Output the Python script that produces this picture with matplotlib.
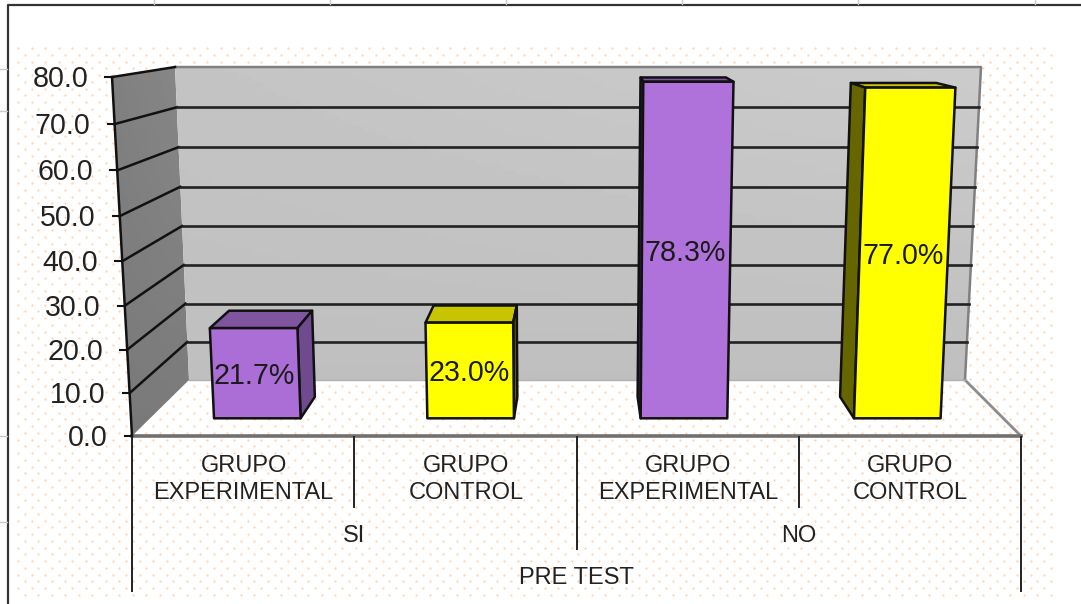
# Pre test bars, faked 3D look like the old Excel chart
import numpy as np
import matplotlib
matplotlib.use("Agg")
import matplotlib.pyplot as plt
from matplotlib.patches import Polygon

plt.rcParams['font.family'] = ['Liberation Sans', 'DejaVu Sans']

values = [21.7, 23.0, 78.3, 77.0]
value_labels = ["21.7%", "23.0%", "78.3%", "77.0%"]
cat_labels = ["GRUPO\nEXPERIMENTAL", "GRUPO\nCONTROL", "GRUPO\nEXPERIMENTAL", "GRUPO\nCONTROL"]
group_labels = ["SI", "NO"]
outer_label = "PRE TEST"
y_ticks = [0, 10, 20, 30, 40, 50, 60, 70, 80]
front_cols = ["#ab6dd6", "#ffff00", "#af72da", "#ffff00"]
top_cols = ["#7f55a0", "#c8c400", "#7f55a0", "#c8c400"]
side_cols = ["#6f4a8e", "#666600", "#3e2a52", "#666600"]

W, H = 1081, 604


def proj(u, v, d):
    # u = category position 0..4, v = value, d = depth 0 (front) .. 1 (back wall)
    a = 4.25 + (3.787 - 4.25) * d
    b = 0.00066 + (0.0004 - 0.00066) * d
    y = (436 + (380 - 436) * d) - a * v / (1 - b * v)
    xl = 132 + 57 * d + v / 80 * (-20 + 6 * d)
    xr = 1021 - 56 * d + v / 80 * (19 - 3 * d)
    return xl + (xr - xl) * u / 4, y


def gradient_poly(pts, c1, c2):
    p = Polygon(pts, closed=True, fc="none", ec="none")
    ax.add_patch(p)
    xs = [q[0] for q in pts]
    ys = [q[1] for q in pts]
    g = np.linspace(0, 1, 64).reshape(-1, 1) * np.linspace(0.4, 1, 64)
    im = ax.imshow(c1 + (c2 - c1) * g, cmap="gray", vmin=0, vmax=255, aspect="auto",
                   extent=(min(xs), max(xs), max(ys), min(ys)), origin="lower", zorder=1)
    im.set_clip_path(p)


fig = plt.figure(figsize=(W / 100, H / 100), dpi=100)
ax = fig.add_axes([0, 0, 1, 1])

# dotted background
for row, yy in enumerate(np.arange(48, 600, 6.75)):
    xx = np.arange(18 + 6.75 * (row % 2), 1057, 13.5)
    ax.scatter(xx, [yy] * len(xx), s=2.6, color="#ffd2b0", linewidths=0, zorder=0)

# walls
gradient_poly([proj(0, 80, 0), proj(0, 80, 1), proj(0, 0, 1), proj(0, 0, 0)], 122, 136)
gradient_poly([proj(0, 80, 1), proj(4, 80, 1), proj(4, 0, 1), proj(0, 0, 1)], 191, 203)

# wall and floor edges
corners = [proj(0, 80, 1), proj(4, 80, 1), proj(4, 0, 1)]
ax.plot([c[0] for c in corners], [c[1] for c in corners], color="#808080", lw=1.8, zorder=2)
ax.plot(*zip(proj(4, 0, 1), proj(4, 0, 0)), color="#8c8c8c", lw=2, zorder=2)
ax.plot(*zip(proj(0, 0, 1), proj(4, 0, 1)), color="#b0b0b0", lw=1, zorder=2)
ax.plot(*zip(proj(0, 0, 0), proj(4, 0, 0)), color="#707070", lw=2.6, zorder=2)

# grid lines
for t in y_ticks:
    f = proj(0, t, 0)
    ax.plot([f[0] - 7, f[0]], [f[1], f[1]], color="#111111", lw=1.5, zorder=3)
    if t > 0:
        ax.plot(*zip(f, proj(0, t, 1)), color="#111111", lw=1.8, zorder=3)
        if t < 80:
            ax.plot(*zip(proj(0, t, 1), proj(4, t, 1)), color="#222222", lw=1.9, zorder=3)
    ax.text(f[0] - 24, f[1] + 2, "%.1f" % t, ha="right", va="center",
            fontsize=20.6, color="#222222", zorder=6)
ax.plot(*zip(proj(0, 0, 0), proj(0, 80, 0)), color="#111111", lw=1.8, zorder=3)

# bars
d1, d2 = 0.316, 0.70
for i, v in enumerate(values):
    u1, u2 = i + 0.3, i + 0.706
    fl0, fr0 = proj(u1, 0, d1), proj(u2, 0, d1)
    fl1, fr1 = proj(u1, v, d1), proj(u2, v, d1)
    bl0, br0 = proj(u1, 0, d2), proj(u2, 0, d2)
    bl1, br1 = proj(u1, v, d2), proj(u2, v, d2)
    kw = dict(closed=True, ec="#111111", lw=1.8, joinstyle="round", zorder=4)
    ax.add_patch(Polygon([fl1, fr1, br1, bl1], fc=top_cols[i], **kw))
    if br0[0] > fr0[0]:
        ax.add_patch(Polygon([fr0, fr1, br1, br0], fc=side_cols[i], **kw))
    if bl0[0] < fl0[0]:
        ax.add_patch(Polygon([fl0, fl1, bl1, bl0], fc=side_cols[i], **kw))
    ax.add_patch(Polygon([fl0, fr0, fr1, fl1], fc=front_cols[i], **kw))
    cx = (fl0[0] + fr0[0] + fl1[0] + fr1[0]) / 4
    cy = (fl0[1] + fl1[1]) / 2
    ax.text(cx - 1, cy + 3, value_labels[i], ha="center", va="center", fontsize=20.6, color="#1a1a1a", zorder=6)

# multi level category axis
for i in range(5):
    x = proj(i, 0, 0)[0]
    end = 591 if i in (0, 4) else (549 if i == 2 else 507)
    ax.plot([x, x], [437, end], color="#222222", lw=1.4, zorder=3)
for i, lab in enumerate(cat_labels):
    ax.text(proj(i + 0.5, 0, 0)[0] + 0.5, 479.5, lab, ha="center", va="center", fontsize=17,
            color="#222222", linespacing=1.28, zorder=6)
for i, lab in enumerate(group_labels):
    ax.text(proj(2 * i + 1, 0, 0)[0], 536, lab, ha="center", va="center", fontsize=17, color="#222222", zorder=6)
ax.text(proj(2, 0, 0)[0], 578, outer_label, ha="center", va="center", fontsize=17, color="#222222", zorder=6)

# chart frame and bits of the sheet behind it
ax.plot([8, 8, W], [H, 5, 5], color="#333333", lw=1.6, zorder=7)
for x in [154, 330, 506, 682, 858, 1035]:
    ax.plot([x, x], [0, 4], color="#c8c8c8", lw=1, zorder=7)
for y in [69, 111, 436, 522]:
    ax.plot([0, 7], [y, y], color="#c8c8c8", lw=1, zorder=7)

ax.set_xlim(0, W)
ax.set_ylim(H, 0)
ax.axis("off")

fig.savefig("out.png", dpi=100)
